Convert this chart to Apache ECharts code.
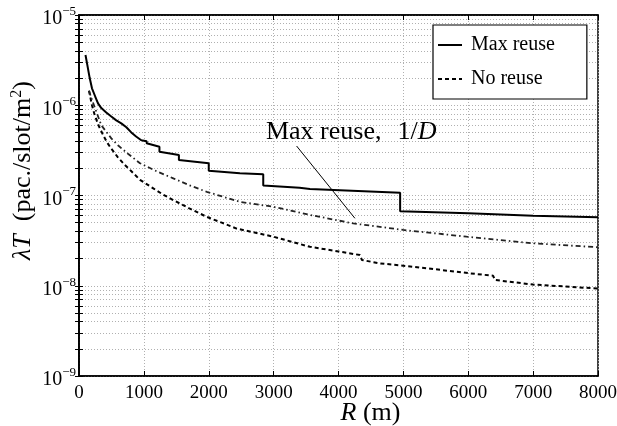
<!DOCTYPE html>
<html>
<head>
<meta charset="utf-8">
<script src="https://cdn.jsdelivr.net/npm/echarts@6/dist/echarts.min.js"></script>
<style>
  html, body { margin: 0; padding: 0; background: #fff; }
  #chart { width: 617px; height: 426px; }
</style>
</head>
<body>
<div id="chart"></div>
<script>
// Max reuse (solid, staircase)
const rMaxReuse = [100, 128, 165, 200, 250, 293, 344, 420, 498, 575, 652, 730, 806, 880, 960, 1043, 1043, 1240, 1240, 1540, 1540, 2000, 2000, 2480, 2840, 2840, 3400, 3560, 4950, 4950, 6000, 7000, 8000];
const lamMaxReuse = [3.6e-6, 2.8e-6, 2.0e-6, 1.54e-6, 1.25e-6, 1.05e-6, 9.3e-7, 8.3e-7, 7.5e-7, 6.8e-7, 6.3e-7, 5.7e-7, 5.0e-7, 4.5e-7, 4.1e-7, 4.0e-7, 3.8e-7, 3.47e-7, 3.05e-7, 2.81e-7, 2.47e-7, 2.28e-7, 1.88e-7, 1.76e-7, 1.72e-7, 1.29e-7, 1.22e-7, 1.18e-7, 1.07e-7, 6.7e-8, 6.35e-8, 5.97e-8, 5.73e-8];

// No reuse (dashed)
const rNoReuse = [154, 200, 242, 300, 370, 430, 498, 600, 700, 800, 940, 1145, 1300, 1453, 1700, 1968, 2200, 2430, 2994, 3560, 4000, 4330, 4360, 4638, 4997, 5500, 6000, 6384, 6410, 7000, 7500, 8000];
const lamNoReuse = [1.45e-6, 1.0e-6, 7.8e-7, 6.0e-7, 4.7e-7, 3.9e-7, 3.3e-7, 2.65e-7, 2.2e-7, 1.88e-7, 1.49e-7, 1.2e-7, 1.02e-7, 8.9e-8, 7.2e-8, 5.8e-8, 5.0e-8, 4.3e-8, 3.5e-8, 2.7e-8, 2.4e-8, 2.19e-8, 1.93e-8, 1.77e-8, 1.67e-8, 1.52e-8, 1.38e-8, 1.29e-8, 1.16e-8, 1.03e-8, 9.8e-9, 9.3e-9];

// Max reuse, 1/D (dash-dot)
const rMaxReuseD = [154, 200, 242, 344, 498, 600, 755, 940, 1200, 1453, 1700, 1968, 2481, 2994, 3560, 4227, 4638, 4997, 5974, 7000, 8000];
const lamMaxReuseD = [1.45e-6, 1.15e-6, 9.5e-7, 6.0e-7, 4.3e-7, 3.6e-7, 2.9e-7, 2.28e-7, 1.85e-7, 1.55e-7, 1.3e-7, 1.1e-7, 8.5e-8, 7.5e-8, 6.1e-8, 4.9e-8, 4.5e-8, 4.15e-8, 3.5e-8, 2.95e-8, 2.67e-8];

// axis ticks
const yDecades = [1e-9, 1e-8, 1e-7, 1e-6, 1e-5];
const yMinorTicks = [];
for (const d of yDecades.slice(0, -1)) {
  for (let k = 1; k <= 9; k++) yMinorTicks.push(+(k * d).toPrecision(3));
}
yMinorTicks.push(1e-5);

const serif = "'Liberation Serif', 'DejaVu Serif', serif";

const pairs = (xs, ys) => xs.map((x, i) => [x, ys[i]]);

const chart = echarts.init(document.getElementById("chart"), null, { renderer: "canvas" });

const yLabel = {
  customValues: yDecades,
  margin: 3,
  padding: [4, 0, 0, 0],
  formatter: (v) => `{b|10}{s|\u2212${Math.abs(Math.round(Math.log10(v)))}}`,
  rich: {
    b: { fontFamily: serif, fontSize: 20, color: "#000", lineHeight: 24, verticalAlign: "bottom" },
    s: { fontFamily: serif, fontSize: 13, color: "#000", lineHeight: 24, verticalAlign: "top", padding: [0, 0, 10, 0] },
  },
};

const gridLine = { show: true, lineStyle: { color: "#b0b0b0", type: [1, 2], width: 1 } };

const option = {
  backgroundColor: "#fff",
  animation: false,
  grid: {
    left: 79, right: 19, top: 15, bottom: 50,
    outerBoundsMode: "none",
    show: true, borderColor: "#000", borderWidth: 1.5, backgroundColor: "transparent",
  },
  legend: {
    data: ["Max reuse", "No reuse"],
    orient: "vertical",
    left: 433, top: 25,
    padding: [10, 32, 10, 4],
    itemWidth: 24, itemHeight: 12, itemGap: 14,
    backgroundColor: "#fff",
    borderColor: "#000", borderWidth: 1.2,
    itemStyle: { opacity: 0 },
    textStyle: { fontFamily: serif, fontSize: 20, color: "#000", padding: [0, 0, 0, 4] },
  },
  xAxis: [
    {
      type: "value", min: 0, max: 8000, interval: 1000,
      axisLine: { show: true, lineStyle: { color: "#000", width: 1.5 } },
      axisTick: { show: true, inside: true, length: 5, lineStyle: { color: "#000" } },
      axisLabel: { fontFamily: serif, fontSize: 19, color: "#000", margin: 8, formatter: (v) => String(v) },
      splitLine: gridLine,
      name: "{i|R} (m)",
      nameLocation: "middle", nameGap: 24, nameMoveOverlap: false,
      nameTextStyle: {
        fontFamily: serif, fontSize: 26, color: "#000", padding: [0, 0, 0, 64],
        rich: { i: { fontFamily: serif, fontSize: 26, fontStyle: "italic", color: "#000" } },
      },
    },
    {
      type: "value", min: 0, max: 8000, interval: 1000, position: "top",
      axisLine: { show: true, lineStyle: { color: "#000", width: 1.5 } },
      axisTick: { show: true, inside: true, length: 5, lineStyle: { color: "#000" } },
      axisLabel: { show: false }, splitLine: { show: false },
    },
  ],
  yAxis: [
    {
      type: "log", logBase: 10, min: 1e-9, max: 1e-5,
      axisLine: { show: true, lineStyle: { color: "#000", width: 1.5 } },
      axisTick: { show: true, inside: true, length: 4, customValues: yMinorTicks, lineStyle: { color: "#000" } },
      axisLabel: yLabel,
      splitLine: gridLine,
      name: "{i|\u03bbT}  (pac./slot/m{s|2})",
      nameLocation: "middle", nameGap: 42, nameRotate: 90, nameMoveOverlap: false,
      nameTextStyle: {
        fontFamily: serif, fontSize: 26, color: "#000", padding: [0, 0, 0, 50],
        rich: {
          i: { fontFamily: serif, fontSize: 26, fontStyle: "italic", color: "#000" },
          s: { fontFamily: serif, fontSize: 16, color: "#000", verticalAlign: "top", padding: [0, 0, 12, 0] },
        },
      },
    },
    {
      type: "log", logBase: 10, min: 1e-9, max: 1e-5, position: "right",
      axisLine: { show: true, lineStyle: { color: "#000", width: 1.5 } },
      axisTick: { show: true, inside: true, length: 4, customValues: yMinorTicks, lineStyle: { color: "#000" } },
      axisLabel: { show: false }, splitLine: { show: false },
    },
  ],
  series: [
    {
      name: "Max reuse", type: "line", data: pairs(rMaxReuse, lamMaxReuse),
      showSymbol: false, symbol: "none", z: 5,
      lineStyle: { color: "#000", width: 2, type: "solid" },
      itemStyle: { color: "#000" },
    },
    {
      name: "No reuse", type: "line", data: pairs(rNoReuse, lamNoReuse),
      showSymbol: false, symbol: "none", z: 4,
      lineStyle: { color: "#000", width: 2, type: [4, 3] },
      itemStyle: { color: "#000" },
    },
    {
      name: "Max reuse, 1/D", type: "line", data: pairs(rMaxReuseD, lamMaxReuseD),
      showSymbol: false, symbol: "none", z: 4,
      lineStyle: { color: "#222", width: 1.8, type: [5, 3, 1.5, 3] },
      itemStyle: { color: "#000" },
      markLine: {
        silent: true, symbol: "none", animation: false,
        label: { show: false },
        lineStyle: { color: "#000", width: 1, type: "solid" },
        data: [[{ coord: [3354, 3.535e-7] }, { coord: [4253, 5.59e-8] }]],
      },
    },
  ],
};

chart.setOption(option);

// annotation text anchored to a data position
const anchor = chart.convertToPixel({ xAxisIndex: 0, yAxisIndex: 0 }, [2881, 5.38e-7]);
chart.setOption({
  graphic: [{
    type: "text", left: anchor[0], top: anchor[1] - 10, z: 10,
    style: {
      text: "{n|Max reuse,}{m|1/}{i|D}",
      rich: {
        n: { fontFamily: serif, fontSize: 26, fill: "#000" },
        m: { fontFamily: serif, fontSize: 26, fill: "#000", padding: [0, 0, 0, 16] },
        i: { fontFamily: serif, fontSize: 26, fontStyle: "italic", fill: "#000" },
      },
    },
  }],
});
</script>
</body>
</html>
